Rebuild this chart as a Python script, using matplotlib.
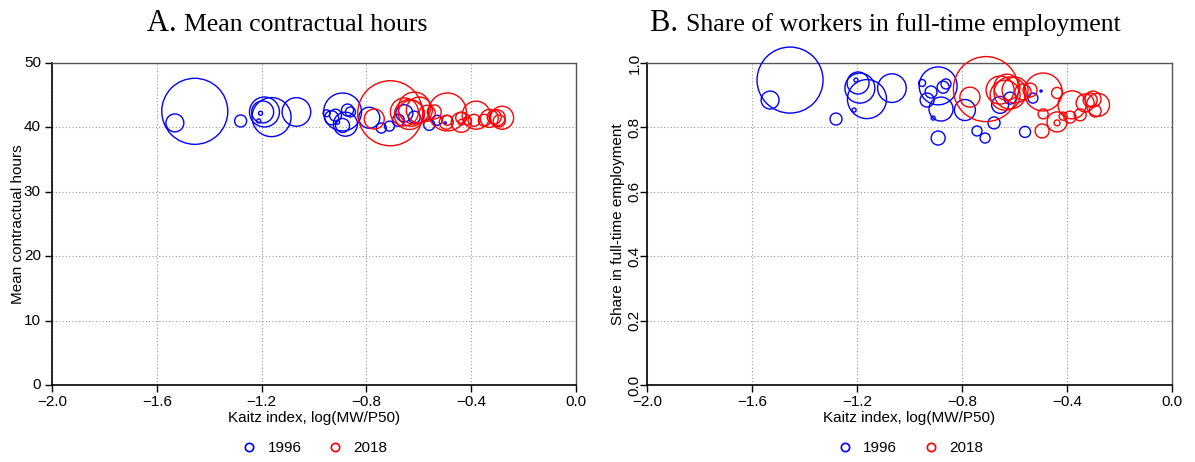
import matplotlib
matplotlib.use("Agg")
import matplotlib.pyplot as plt
from matplotlib.lines import Line2D

# 1996 cells: Kaitz index, employment weight, mean hours, full-time share
kaitz_96 = [-1.455, -1.531, -1.280, -1.162, -1.189, -1.196, -1.204, -1.211, -1.067,
            -0.891, -0.952, -0.918, -0.933, -0.872, -0.861, -0.880, -0.910, -0.789,
            -0.891, -0.743, -0.712, -0.678, -0.655, -0.617, -0.560, -0.530, -0.499]
emp_96 = [100, 7.4, 3.3, 35, 20.6, 11.1, 0.37, 0.37, 18.8,
          33, 1.1, 3.3, 4.5, 3.3, 2.3, 13.2, 0.37, 10.1,
          4.5, 2.3, 2.3, 3.3, 6.6, 3.3, 2.8, 2.3, 0.1]
hours_96 = [42.5, 40.7, 41.0, 41.6, 42.4, 42.4, 42.2, 41.0, 42.4,
            42.4, 42.2, 41.9, 41.5, 42.7, 42.4, 40.5, 40.8, 41.5,
            40.3, 39.9, 40.2, 41.1, 42.2, 41.6, 40.4, 41.1, 40.7]
ft_96 = [0.947, 0.885, 0.826, 0.888, 0.922, 0.938, 0.947, 0.854, 0.922,
         0.929, 0.938, 0.910, 0.885, 0.925, 0.935, 0.857, 0.829, 0.854,
         0.767, 0.789, 0.767, 0.814, 0.870, 0.891, 0.786, 0.891, 0.913]

# 2018 cells
kaitz_18 = [-0.709, -0.770, -0.655, -0.629, -0.617, -0.598, -0.636, -0.568, -0.541,
            -0.491, -0.438, -0.491, -0.438, -0.438, -0.495, -0.381, -0.389, -0.415,
            -0.350, -0.331, -0.312, -0.301, -0.282, -0.293]
emp_18 = [97, 9.2, 18, 15.5, 23.5, 15.5, 20.6, 5.9, 4.5,
          33, 2.8, 2.3, 9.2, 0.8, 4.5, 18, 3.3, 1.5,
          3.3, 7.4, 4.5, 5.9, 12.1, 3.3]
hours_18 = [42.2, 41.3, 42.4, 42.2, 43.0, 42.7, 42.0, 42.2, 42.4,
            42.4, 41.5, 41.1, 40.8, 40.8, 40.8, 41.9, 41.1, 41.0,
            41.1, 41.4, 41.6, 41.5, 41.5, 41.0]
ft_18 = [0.919, 0.894, 0.916, 0.925, 0.907, 0.916, 0.900, 0.910, 0.916,
         0.910, 0.907, 0.842, 0.817, 0.814, 0.789, 0.870, 0.832, 0.835,
         0.839, 0.876, 0.885, 0.888, 0.870, 0.851]

years = ["1996", "2018"]
colors = ["#0000ff", "#ff0000"]
xticks = [-2.0, -1.6, -1.2, -0.8, -0.4, 0.0]
SCALE = 22.6  # marker area (pt^2) per unit of employment weight

sans = "Liberation Sans"
serif = "Liberation Serif"

fig = plt.figure(figsize=(11.95, 4.62), dpi=100)
axA = fig.add_axes([0.0435, 0.1667, 0.4385, 0.6969])
axB = fig.add_axes([0.5414, 0.1667, 0.4394, 0.6969])

panels = [
    (axA, hours_96, hours_18, (0, 50), [0, 10, 20, 30, 40, 50],
     ["0", "10", "20", "30", "40", "50"], 0, "Mean contractual hours",
     "A.", "Mean contractual hours", 3, -1, 0.252),
    (axB, ft_96, ft_18, (0, 1), [0, 0.2, 0.4, 0.6, 0.8, 1.0],
     ["0.0", "0.2", "0.4", "0.6", "0.8", "1.0"], 90, "Share in full-time employment",
     "B.", "Share of workers in full-time employment", -1, 2, 0.074),
]

for ax, y96, y18, ylim, yt, ytl, rot, ylab, letter, title, ypad, lpad, tx in panels:
    for xs, ys, ws, c in [(kaitz_96, y96, emp_96, colors[0]),
                          (kaitz_18, y18, emp_18, colors[1])]:
        ax.scatter(xs, ys, s=[w * SCALE for w in ws], facecolors="none",
                   edgecolors=c, linewidths=1.0, clip_on=False, zorder=3)
    ax.set_xlim(-2.0, 0.0)
    ax.set_ylim(*ylim)
    ax.set_xticks(xticks)
    ax.set_xticklabels(["\u22122.0", "\u22121.6", "\u22121.2", "\u22120.8", "\u22120.4", "0.0"],
                       fontsize=11, family=sans)
    ax.set_yticks(yt)
    ax.set_yticklabels(ytl, fontsize=11, family=sans, rotation=rot,
                       va="center")
    ax.grid(True, linestyle=(0, (1, 2)), color="#999999", linewidth=0.8)
    ax.set_axisbelow(True)
    ax.tick_params(direction="out", length=5, width=1, color="black", pad=2)
    ax.tick_params(axis="y", pad=ypad)
    for side in ["left", "bottom"]:
        ax.spines[side].set_color("black")
        ax.spines[side].set_linewidth(1.2)
    for side in ["top", "right"]:
        ax.spines[side].set_color("#555555")
        ax.spines[side].set_linewidth(1.0)
    ax.set_xlabel("Kaitz index, log(MW/P50)", fontsize=11, family=sans, labelpad=2)
    ax.set_ylabel(ylab, fontsize=11, family=sans, labelpad=lpad)

    # panel heading: larger letter followed by the title text
    ax.text(tx, 1.098, letter + " ", transform=ax.transAxes, ha="right",
            va="baseline", fontsize=22, family=serif)
    ax.text(tx, 1.098, title, transform=ax.transAxes, ha="left",
            va="baseline", fontsize=18.5, family=serif)

    handles = [Line2D([], [], marker="o", linestyle="none", markerfacecolor="none",
                      markeredgecolor=c, markersize=6, markeredgewidth=1.2)
               for c in colors]
    ax.legend(handles, years, loc="center", bbox_to_anchor=(0.5, -0.196),
              ncol=2, frameon=False, handletextpad=0.6, handlelength=1.2,
              columnspacing=1.6, prop={"family": sans, "size": 11})

fig.savefig("out.png", dpi=100)
